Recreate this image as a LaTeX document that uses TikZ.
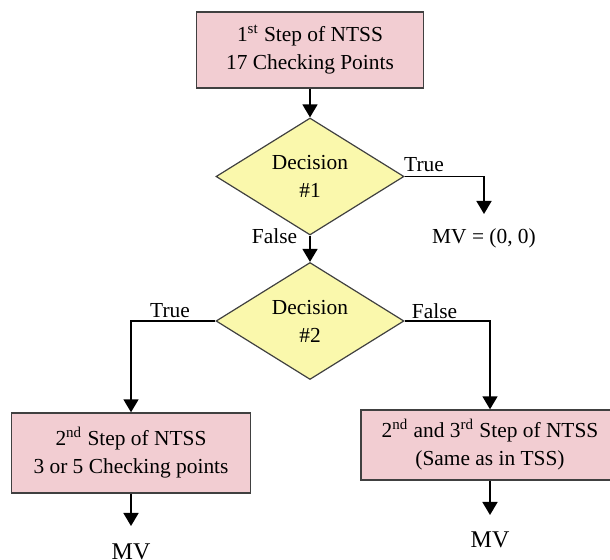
\documentclass[tikz,border=0pt]{standalone}
\usepackage{fontspec}
\setmainfont{Liberation Serif}
\usetikzlibrary{shapes.geometric,arrows.meta}
\definecolor{boxpink}{RGB}{242,205,210}
\definecolor{decyellow}{RGB}{250,248,172}
\definecolor{edgegray}{RGB}{64,64,64}

\begin{document}
\begin{tikzpicture}[x=0.5pt,y=-0.5pt,
		stepbox/.style={draw=edgegray,line width=0.7pt,fill=boxpink,align=center,inner sep=0pt,font=\fontsize{10.7}{14}\selectfont},
		decision/.style={diamond,draw=edgegray,line width=0.6pt,fill=decyellow,align=center,inner sep=0pt,aspect=1.6,minimum width=94pt,minimum height=58.5pt,font=\fontsize{10.7}{14}\selectfont},
		flow/.style={line width=0.8pt,-{Triangle[width=7.5pt,length=6.5pt]}},
		lbl/.style={inner sep=0pt,font=\fontsize{10.7}{13}\selectfont},
		mvlbl/.style={inner sep=0pt,font=\fontsize{12}{14}\selectfont}]
		
		\clip (0,0) rectangle (610,560);
		
		% first step
		\node[stepbox,minimum width=113.5pt,minimum height=38pt] (step1) at (310,50) {1\textsuperscript{st} Step of NTSS\\17 Checking Points};
		
		% decision 1
		\node[decision] (dec1) at (310,176.5) {Decision\\\#1};
		\draw[flow] (step1.south) to (dec1.north);
		
		\coordinate (zeroend) at (484,214);
		\draw[flow] (dec1.east) -| (zeroend);
		\node[lbl] (true1) at (424,165) {True};
		\node[lbl] (zeromv) at (484,238) {MV = (0, 0)};
		
		% decision 2
		\node[decision] (dec2) at (310,321) {Decision\\\#2};
		\draw[flow] (dec1.south) to (dec2.north);
		\node[lbl] (false1) at (274.5,236) {False};
		
		% second step
		\node[stepbox,minimum width=119.5pt,minimum height=40pt] (step2) at (131,453) {2\textsuperscript{nd} Step of NTSS\\3 or 5 Checking points};
		\draw[flow] (dec2.west) -| (step2.north);
		\node[lbl] (true2) at (170,311) {True};
		
		% second and third step
		\node[stepbox,minimum width=129pt,minimum height=35pt] (step3) at (490,445) {2\textsuperscript{nd} and 3\textsuperscript{rd} Step of NTSS\\(Same as in TSS)};
		\draw[flow] (dec2.east) -| (step3.north);
		\node[lbl] (false2) at (434.5,311) {False};
		
		% motion vectors
		\coordinate (mvend2) at (131,526);
		\draw[flow] (step2.south) to (mvend2);
		\node[mvlbl] (mv2) at (131,552) {MV};
		
		\coordinate (mvend3) at (490,515);
		\draw[flow] (step3.south) to (mvend3);
		\node[mvlbl] (mv3) at (490,540) {MV};
		
	\end{tikzpicture}
\end{document}
